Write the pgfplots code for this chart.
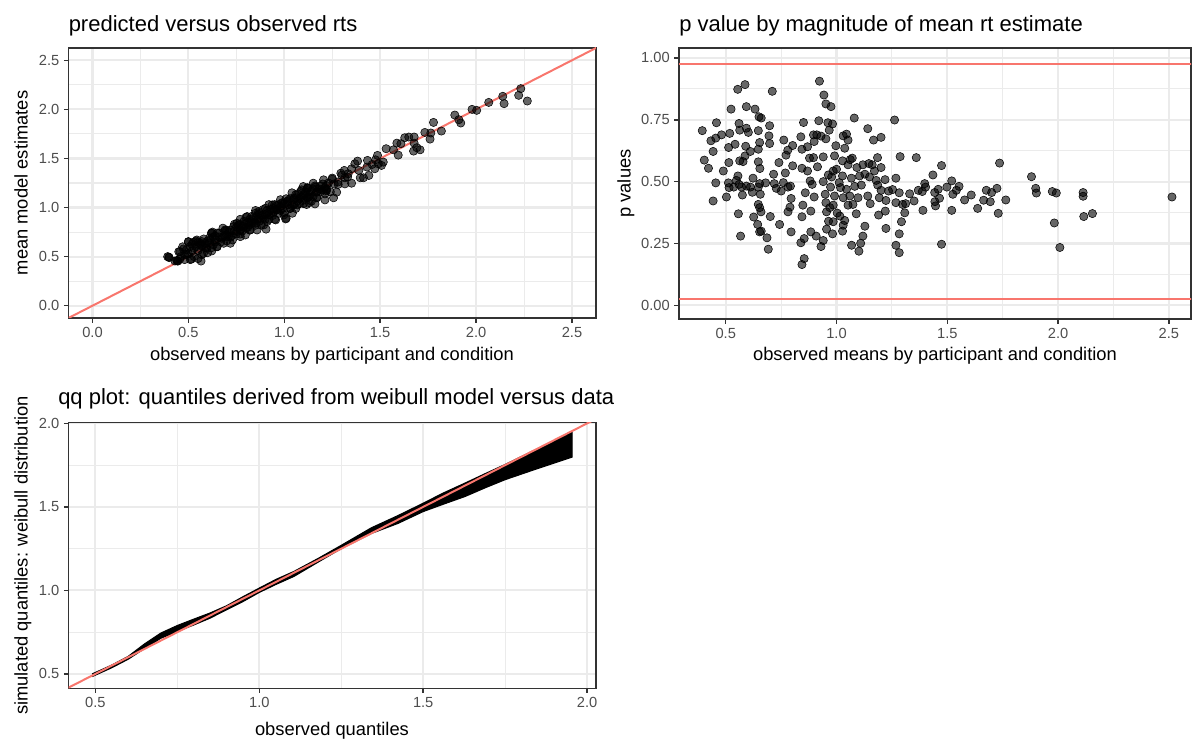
\documentclass[border=0pt]{standalone}
\usepackage{fontspec}
\setmainfont{Liberation Sans}
\usepackage{pgfplots}
\pgfplotsset{compat=1.18}

\definecolor{gridc}{HTML}{EBEBEB}
\definecolor{framec}{HTML}{333333}
\definecolor{tickc}{HTML}{4D4D4D}
\definecolor{refred}{HTML}{F8766D}

\newcommand{\titlefont}{\fontsize{16.5}{19}\selectfont}
\newcommand{\labfont}{\fontsize{13.75}{16}\selectfont}

\pgfplotsset{
  ggpanel/.style={
    scale only axis,
    axis line style={draw=framec, line width=1.1pt},
    grid=both,
    major grid style={draw=gridc, line width=1.6pt},
    minor grid style={draw=gridc, line width=0.8pt},
    tick align=outside,
    major tick length=3.4pt,
    minor tick length=0pt,
    tick style={draw=framec, line width=1.1pt},
    xtick pos=bottom, ytick pos=left,
    minor tick num=1,
    tick label style={font=\fontsize{11}{13}\selectfont, text=tickc},
    /pgf/number format/assume math mode=true,
    /pgf/number format/fixed,
    /pgf/number format/fixed zerofill,
    /pgf/number format/precision=1,
  },
  pts/.style={only marks, mark=*, mark size=3.1pt,
    mark options={draw=none, fill=black, fill opacity=0.6}},
  refline/.style={refred, line width=1.5pt},
}

\begin{document}
\begin{tikzpicture}[x=0.75pt, y=0.75pt]
\path[use as bounding box] (0,0) rectangle (1192,740);

% ---------- predicted versus observed ----------
\begin{axis}[ggpanel, at={(51.375pt,316.5pt)}, anchor=south west,
  width=395.6pt, height=202.5pt,
  xmin=-0.125, xmax=2.625, ymin=-0.125, ymax=2.625,
  xtick={0,0.5,...,2.5}, ytick={0,0.5,...,2.5}]
\addplot[pts] coordinates {
(0.392,0.500)(0.400,0.490)(0.398,0.495)
(0.44,0.46)(0.45,0.55)(0.46,0.50)(0.47,0.60)(0.48,0.47)(0.49,0.57)(0.50,0.65)(0.50,0.53)
(0.51,0.47)(0.52,0.63)(0.53,0.59)(0.53,0.50)(0.54,0.66)(0.55,0.56)(0.55,0.48)(0.56,0.64)
(0.57,0.61)(0.57,0.52)(0.58,0.68)(0.59,0.59)(0.60,0.66)(0.60,0.54)(0.61,0.64)(0.62,0.74)
(0.62,0.59)(0.63,0.70)(0.64,0.65)(0.65,0.60)(0.65,0.74)(0.66,0.70)(0.67,0.65)(0.68,0.79)
(0.69,0.71)(0.70,0.66)(0.70,0.77)(0.71,0.71)(0.72,0.77)(0.73,0.67)(0.74,0.83)(0.74,0.76)
(0.75,0.73)(0.76,0.82)(0.77,0.88)(0.77,0.73)(0.78,0.81)(0.79,0.86)(0.80,0.79)(0.80,0.90)
(0.81,0.85)(0.82,0.77)(0.83,0.91)(0.83,0.84)(0.84,0.89)(0.85,0.82)(0.85,0.97)(0.86,0.88)
(0.87,0.94)(0.88,0.82)(0.88,0.92)(0.89,0.98)(0.90,0.88)(0.90,0.93)(0.91,0.97)(0.92,0.88)
(0.92,1.03)(0.93,0.94)(0.94,0.99)(0.95,0.88)(0.95,1.03)(0.96,0.98)(0.97,0.94)(0.97,1.03)
(0.98,1.08)(0.99,0.99)(1.00,0.95)(1.00,1.04)(1.01,0.89)(1.01,1.09)(1.02,1.03)(1.03,0.99)
(1.03,1.09)(1.04,1.15)(1.05,1.03)(1.05,1.08)(1.06,0.99)(1.07,1.14)(1.07,1.07)(1.08,1.04)
(1.09,1.18)(1.09,1.11)(1.10,1.04)(1.11,1.16)(1.12,1.10)(1.12,1.20)(1.13,1.05)(1.14,1.17)
(1.15,1.11)(1.16,1.22)(1.17,1.10)(1.18,1.19)(1.19,1.16)(1.20,1.24)(1.22,1.17)(1.23,1.25)
(1.24,1.16)(1.25,1.30)(1.28,1.26)
(0.442,0.456)(0.456,0.551)(0.474,0.578)(0.500,0.653)(0.509,0.602)(0.526,0.646)(0.544,0.670)
(0.558,0.619)(0.570,0.653)(0.587,0.636)(0.596,0.585)(0.614,0.670)(0.622,0.738)(0.640,0.670)
(0.649,0.602)(0.675,0.687)(0.692,0.772)(0.701,0.721)(0.727,0.714)(0.753,0.840)(0.753,0.755)
(0.771,0.772)(0.788,0.806)(0.806,0.908)(0.815,0.823)(0.832,0.857)(0.850,0.942)(0.850,0.840)
(0.867,0.959)(0.876,0.891)(0.893,0.823)(0.902,0.993)(0.920,0.925)(0.937,1.027)(0.946,0.959)
(0.955,0.874)(0.981,1.010)(0.998,0.925)(1.016,1.061)(1.033,0.993)(1.051,1.095)(1.068,1.027)
(1.086,1.163)(1.103,1.078)(1.121,1.197)(1.129,1.112)(0.491,0.524)(0.456,0.476)(0.430,0.456)
(0.579,0.534)(0.622,0.558)(0.684,0.636)(0.719,0.636)(0.736,0.806)(0.771,0.704)(0.797,0.721)
(0.823,0.772)(0.858,0.772)(0.911,0.857)(0.963,0.976)(0.990,1.044)(1.042,0.942)(1.059,1.129)
(1.007,0.884)(0.446,0.455)(0.516,0.475)(0.566,0.455)(0.550,0.648)(0.626,0.750)(0.767,0.830)
(0.905,0.780)
(0.58,0.62)(0.61,0.69)(0.63,0.62)(0.66,0.74)(0.68,0.70)(0.71,0.75)(0.72,0.70)(0.75,0.80)
(0.78,0.76)(0.79,0.83)(0.81,0.80)(0.82,0.88)(0.84,0.85)(0.86,0.92)(0.87,0.86)(0.89,0.90)
(0.91,0.94)(0.93,0.98)(0.94,0.92)(0.96,1.02)(0.98,0.97)(0.99,1.05)(1.02,1.07)(1.04,1.02)
(1.06,1.10)(1.08,1.09)(1.10,1.13)(1.13,1.14)(1.15,1.19)(1.17,1.16)(1.19,1.22)(1.21,1.20)
(1.26,1.24)(1.30,1.33)(1.33,1.31)(0.52,0.56)(0.54,0.60)(0.48,0.52)(0.64,0.71)(0.69,0.76)
(2.233,2.211)(2.222,2.143)(2.267,2.085)(2.139,2.133)(2.146,2.058)(2.066,2.071)(1.979,2.000)
(2.003,1.990)(1.889,1.942)(1.910,1.895)(1.920,1.861)(1.778,1.867)(1.819,1.779)(1.764,1.759)
(1.760,1.697)(1.733,1.765)(1.649,1.718)(1.628,1.711)(1.677,1.718)(1.677,1.656)(1.691,1.609)
(1.674,1.575)(1.708,1.588)(1.587,1.656)(1.608,1.650)(1.569,1.588)(1.594,1.534)(1.531,1.599)
(1.486,1.531)(1.476,1.486)(1.516,1.463)(1.434,1.480)(1.382,1.473)(1.431,1.412)(1.458,1.439)
(1.490,1.446)(1.507,1.429)(1.472,1.395)(1.413,1.303)(1.441,1.327)(1.368,1.446)(1.351,1.395)
(1.389,1.378)(1.333,1.344)(1.313,1.378)(1.295,1.350)(1.257,1.099)(1.281,1.235)(1.316,1.241)
(1.351,1.248)(1.250,1.289)(1.220,1.224)(1.205,1.282)(1.273,1.156)(1.167,1.156)(1.151,1.248)
(1.122,1.201)(1.161,1.207)(1.212,1.139)(1.220,1.190)(1.194,1.180)(1.125,1.105)(1.099,1.214)
(1.104,1.122)(1.168,1.099)(1.212,1.078)(1.142,1.065)(1.116,1.031)(1.160,1.037)(1.316,1.303)
(1.396,1.303)(1.218,1.178)
};
\addplot[refline] coordinates {(-0.2,-0.2) (2.7,2.7)};
\end{axis}

% ---------- p values ----------
\begin{axis}[ggpanel, at={(509.25pt,315.75pt)}, anchor=south west,
  width=384pt, height=203.25pt,
  xmin=0.289, xmax=2.6, ymin=-0.055, ymax=1.04,
  xtick={0.5,1,...,2.5}, ytick={0,0.25,...,1},
  yticklabel style={/pgf/number format/precision=2}]
\addplot[refline] coordinates {(0.2,0.025) (2.7,0.025)};
\addplot[refline] coordinates {(0.2,0.975) (2.7,0.975)};
\addplot[pts] coordinates {
(0.587,0.892)(0.554,0.873)(0.710,0.865)(0.524,0.793)(0.593,0.803)(0.632,0.793)(0.650,0.762)
(0.660,0.757)(0.458,0.738)(0.560,0.735)(0.698,0.726)(0.394,0.706)(0.563,0.708)(0.593,0.716)
(0.602,0.699)(0.647,0.706)(0.518,0.695)(0.481,0.689)(0.455,0.676)(0.433,0.665)(0.695,0.685)
(0.653,0.658)(0.542,0.651)(0.513,0.638)(0.590,0.643)(0.698,0.654)(0.762,0.668)(0.443,0.622)
(0.611,0.622)(0.647,0.631)(0.587,0.604)(0.780,0.627)(0.802,0.646)(0.403,0.587)(0.514,0.577)
(0.563,0.584)(0.578,0.581)(0.647,0.580)(0.740,0.577)(0.772,0.607)(0.422,0.554)(0.489,0.543)
(0.654,0.553)(0.802,0.564)(0.716,0.530)(0.769,0.535)(0.555,0.523)(0.455,0.495)(0.512,0.495)
(0.548,0.505)(0.560,0.489)(0.572,0.478)(0.593,0.482)(0.611,0.478)(0.623,0.514)(0.647,0.478)
(0.653,0.492)(0.680,0.495)(0.719,0.492)(0.728,0.473)(0.750,0.462)(0.760,0.496)(0.781,0.478)
(0.792,0.482)(0.515,0.476)(0.536,0.478)(0.503,0.438)(0.575,0.446)(0.620,0.457)(0.656,0.449)
(0.443,0.422)(0.647,0.408)(0.653,0.395)(0.659,0.378)(0.795,0.432)(0.790,0.397)(0.781,0.378)
(0.557,0.370)(0.626,0.357)(0.701,0.359)(0.644,0.327)(0.743,0.327)(0.660,0.300)(0.653,0.297)
(0.567,0.280)(0.686,0.273)(0.795,0.297)(0.692,0.227)
(0.923,0.906)(0.943,0.850)(0.952,0.814)(0.975,0.803)(0.851,0.739)(0.920,0.746)(0.961,0.738)
(0.982,0.733)(1.080,0.757)(1.262,0.749)(0.967,0.708)(1.141,0.714)(0.839,0.681)(0.896,0.689)
(0.911,0.689)(0.930,0.684)(0.899,0.662)(0.952,0.673)(1.030,0.685)(1.052,0.668)(1.045,0.692)
(1.167,0.668)(1.201,0.679)(0.844,0.631)(0.869,0.641)(0.997,0.645)(1.037,0.635)(0.878,0.595)
(0.896,0.597)(0.940,0.600)(0.991,0.604)(1.027,0.584)(1.062,0.589)(1.071,0.595)(1.185,0.597)
(1.287,0.601)(1.360,0.597)(0.844,0.554)(0.869,0.543)(0.914,0.560)(0.985,0.543)(1.000,0.550)
(1.052,0.568)(1.092,0.557)(1.119,0.568)(1.146,0.573)(1.161,0.568)(1.201,0.557)(1.171,0.543)
(0.963,0.527)(0.978,0.519)(1.027,0.523)(1.067,0.514)(1.104,0.523)(1.128,0.530)(0.881,0.503)
(0.890,0.489)(0.940,0.500)(1.012,0.496)(1.149,0.519)(1.179,0.505)(1.219,0.508)(1.268,0.514)
(0.859,0.455)(0.899,0.438)(0.973,0.478)(1.018,0.476)(1.045,0.469)(1.082,0.481)(1.112,0.486)
(1.186,0.486)(1.201,0.465)(1.235,0.462)(1.253,0.468)(1.283,0.455)(0.949,0.449)(0.991,0.442)
(1.030,0.435)(1.060,0.442)(1.097,0.435)(1.141,0.442)(1.193,0.435)(1.223,0.424)(1.268,0.415)
(1.298,0.408)(1.312,0.411)(1.330,0.451)(1.350,0.422)(1.369,0.465)(0.952,0.415)(0.970,0.395)
(0.985,0.405)(1.052,0.405)(1.074,0.408)(1.152,0.411)(0.848,0.405)(0.884,0.381)(0.955,0.378)
(1.003,0.373)(1.015,0.361)(1.089,0.370)(1.190,0.365)(1.220,0.381)(1.308,0.374)(0.844,0.358)
(0.985,0.338)(0.964,0.340)(1.037,0.343)(1.293,0.338)(1.030,0.324)(1.128,0.320)(1.223,0.311)
(0.955,0.308)(0.884,0.297)(0.908,0.280)(0.982,0.289)(1.027,0.300)(1.283,0.289)(0.854,0.270)
(0.940,0.262)(1.119,0.280)(0.839,0.253)(0.930,0.238)(1.068,0.243)(1.109,0.251)(1.268,0.243)
(1.101,0.219)(1.283,0.213)(0.854,0.189)(0.844,0.165)
(1.474,0.565)(1.435,0.527)(1.398,0.492)(1.402,0.478)(1.387,0.460)(1.443,0.456)(1.459,0.469)
(1.465,0.433)(1.444,0.419)(1.447,0.402)(1.390,0.384)(1.520,0.503)(1.498,0.478)(1.525,0.449)
(1.541,0.465)(1.553,0.481)(1.520,0.384)(1.474,0.247)(1.578,0.426)(1.608,0.446)(1.637,0.392)
(1.664,0.425)(1.676,0.465)(1.694,0.419)(1.700,0.456)(1.724,0.473)(1.736,0.575)(1.764,0.426)
(1.730,0.372)(1.880,0.520)(1.899,0.473)(1.902,0.454)(1.974,0.460)(1.992,0.454)(1.983,0.333)
(2.008,0.234)(2.113,0.456)(2.113,0.441)(2.116,0.359)(2.155,0.371)(2.514,0.438)
};
\end{axis}

% ---------- qq plot ----------
\begin{axis}[ggpanel, at={(51.375pt,38.775pt)}, anchor=south west,
  width=395.6pt, height=199.2pt,
  xmin=0.418, xmax=2.027, ymin=0.414, ymax=2.004,
  xtick={0.5,1,...,2}, ytick={0.5,1,...,2}]
\addplot[draw=black, fill=black, line width=0.8pt] coordinates {
(0.49,0.500)(0.55,0.553)(0.60,0.605)(0.65,0.680)(0.70,0.745)(0.75,0.790)(0.80,0.828)
(0.85,0.865)(0.90,0.908)(0.95,0.962)(1.00,1.014)(1.05,1.065)(1.106,1.114)(1.18,1.192)
(1.25,1.270)(1.342,1.375)(1.423,1.448)(1.50,1.522)(1.56,1.582)(1.628,1.643)(1.69,1.700)
(1.75,1.754)(1.85,1.850)(1.954,1.946)
(1.954,1.798)(1.85,1.730)(1.75,1.663)(1.69,1.615)(1.628,1.5625)(1.56,1.515)(1.50,1.472)
(1.423,1.401)(1.342,1.341)(1.25,1.250)(1.18,1.170)(1.106,1.084)(1.05,1.035)(1.00,0.988)
(0.95,0.933)(0.90,0.884)(0.85,0.834)(0.80,0.793)(0.75,0.754)(0.70,0.714)(0.65,0.652)
(0.60,0.588)(0.55,0.537)(0.49,0.484)
};
\addplot[refline] coordinates {(0.3,0.3) (2.1,2.1)};
\end{axis}

% titles and axis titles
\begin{scope}[every node/.style={inner sep=0pt}]
\node[anchor=base west, font=\titlefont] at (68.5,708) {predicted versus observed rts};
\node[anchor=base west, font=\titlefont] at (679,708) {p value by magnitude of mean rt estimate};
\node[anchor=base west, font=\titlefont] at (58,335) {qq plot: quantiles derived from weibull model versus data};

\node[anchor=base, font=\labfont] at (332,379) {observed means by participant and condition};
\node[anchor=base, font=\labfont] at (935,379) {observed means by participant and condition};
\node[anchor=base, font=\labfont] at (332,5) {observed quantiles};

\node[anchor=base, rotate=90, font=\labfont] at (27.5,557) {mean model estimates};
\node[anchor=base, rotate=90, font=\labfont] at (630.5,556.5) {p values};
\node[anchor=base, rotate=90, font=\labfont] at (27.5,184.5) {simulated quantiles: weibull distribution};
\end{scope}
\end{tikzpicture}
\end{document}
